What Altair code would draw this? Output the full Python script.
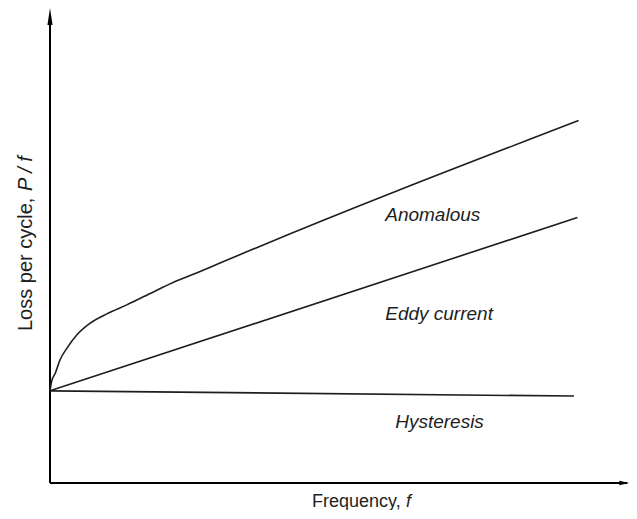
import altair as alt
import pandas as pd

# Curves (arbitrary units)
anom_f = [0, 0.03, 0.09, 0.17, 0.29, 0.46, 0.68, 0.97, 1.31, 1.71, 2.10, 2.50, 2.90, 9.02]
anom_p = [1.94, 2.15, 2.31, 2.59, 2.84, 3.12, 3.36, 3.56, 3.75, 3.99, 4.22, 4.42, 4.63, 7.63]
eddy_f = [0, 9.0]
eddy_p = [1.94, 5.59]
hyst_f = [0, 8.94]
hyst_p = [1.94, 1.83]

labels = ["Anomalous", "Eddy current", "Hysteresis"]
label_f = [5.72, 5.72, 5.89]
label_p = [5.52, 3.43, 1.16]

rows = []
for name, fs, ps in [("Anomalous", anom_f, anom_p), ("Eddy current", eddy_f, eddy_p), ("Hysteresis", hyst_f, hyst_p)]:
    for f, p in zip(fs, ps):
        rows.append({"series": name, "f": f, "p": p})
df = pd.DataFrame(rows)
lab_df = pd.DataFrame({"label": labels, "f": label_f, "p": label_p})

W, H = 579, 475
xs = alt.Scale(domain=[0, 9.88], nice=False, zero=False)
ys = alt.Scale(domain=[0, 10], nice=False, zero=False)
INK = "#1e1e1e"
FONT = "Liberation Sans"


def X(field):
    return alt.X(field, scale=xs, axis=None)


def Y(field):
    return alt.Y(field, scale=ys, axis=None)


lines = alt.Chart(df).mark_line(color=INK, strokeWidth=1.6, interpolate="monotone").encode(
    x=X("f:Q"), y=Y("p:Q"), detail="series:N", order="f:Q"
)

curve_labels = alt.Chart(lab_df).mark_text(
    align="left", baseline="alphabetic", font=FONT, fontSize=19, fontStyle="italic", color=INK
).encode(x=X("f:Q"), y=Y("p:Q"), text="label:N")

# axes with arrows
axes_df = pd.DataFrame({"x1": [0, 0], "y1": [0, 0], "x2": [0, 9.85], "y2": [9.75, 0]})
axes = alt.Chart(axes_df).mark_rule(color="black", strokeWidth=2).encode(
    x=X("x1:Q"), y=Y("y1:Q"), x2="x2:Q", y2="y2:Q"
)
up_arrow = alt.Chart(pd.DataFrame({"x": [0], "y": [10 - 8.5 / 47.5]})).mark_point(
    shape="M0,-1L0.3,1L-0.3,1Z", size=289, filled=True, color="black", opacity=1
).encode(x=X("x:Q"), y=Y("y:Q"))
right_arrow = alt.Chart(pd.DataFrame({"x": [9.80], "y": [0]})).mark_point(
    shape="M1,0L-1,-0.45L-1,0.45Z", size=100, filled=True, color="black", opacity=1
).encode(x=X("x:Q"), y=Y("y:Q"))

# axis titles (normal + italic parts)
title_df = pd.DataFrame({
    "t": ["Frequency,", "f", "Loss per cycle,", "P / f"],
    "x": [4.471, 6.075, -0.307, -0.307],
    "y": [-0.505, -0.505, 3.20, 6.147],
})
xt1 = alt.Chart(title_df.iloc[[0]]).mark_text(
    align="left", baseline="alphabetic", font=FONT, fontSize=18, color=INK
).encode(x=X("x:Q"), y=Y("y:Q"), text="t:N")
xt2 = alt.Chart(title_df.iloc[[1]]).mark_text(
    align="left", baseline="alphabetic", font=FONT, fontSize=18, fontStyle="italic", color=INK
).encode(x=X("x:Q"), y=Y("y:Q"), text="t:N")
yt1 = alt.Chart(title_df.iloc[[2]]).mark_text(
    align="left", baseline="alphabetic", angle=270, font=FONT, fontSize=20, color=INK
).encode(x=X("x:Q"), y=Y("y:Q"), text="t:N")
yt2 = alt.Chart(title_df.iloc[[3]]).mark_text(
    align="left", baseline="alphabetic", angle=270, font=FONT, fontSize=20, fontStyle="italic", color=INK
).encode(x=X("x:Q"), y=Y("y:Q"), text="t:N")

chart = alt.layer(axes, up_arrow, right_arrow, lines, curve_labels, xt1, xt2, yt1, yt2).properties(
    width=W, height=H,
    padding={"left": 42, "top": 0, "right": 0, "bottom": 27},
    autosize=alt.AutoSizeParams(type="none"),
    background="white",
).configure_view(stroke=None)

chart.save("out.html", embed_options={"renderer": "svg", "actions": False})
